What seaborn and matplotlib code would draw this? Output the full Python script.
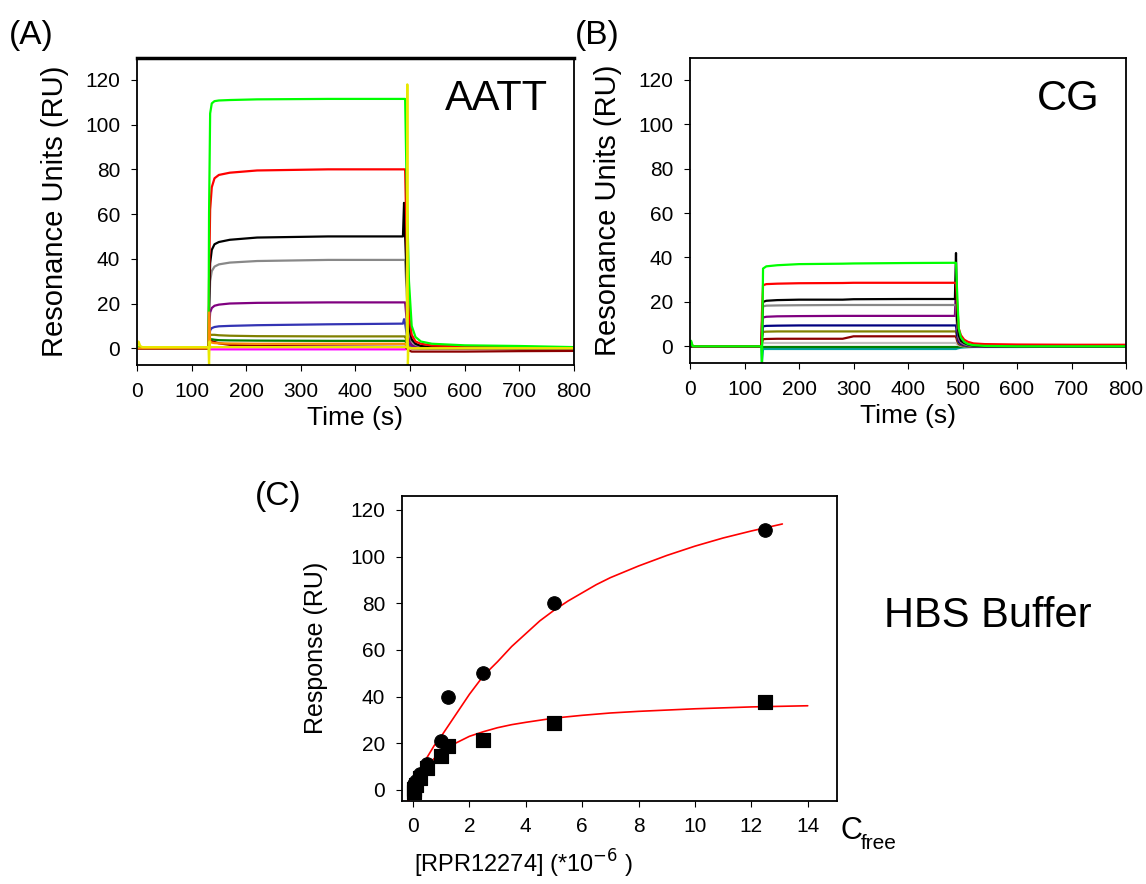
import pandas as pd
import seaborn as sns
import matplotlib.pyplot as plt

# ---- panel A (AATT) sensorgrams ----
t_a = [0, 131, 132, 134, 137, 142, 150, 170, 220, 350, 487, 489, 491, 494, 498, 503, 510, 520, 540, 600, 700, 800]
aatt_magenta = [0, 0, -0.5, -0.5, -0.5, -0.5, -0.5, -0.5, -0.5, -0.5, -0.5, -0.5, -0.5, -0.3, -0.1, 0, 0, 0, 0, 0, 0, 0]
aatt_silver = [0, 0, 2, 3, 3, 2.5, 2.3, 2, 1.8, 1.8, 1.8, 1.8, 1.8, 1, 0.3, 0, 0, 0, 0, 0, 0, 0]
aatt_darkred = [0, 0, 3, 3.5, 3.2, 2.8, 2.2, 1.5, 1, 0.8, 0.6, 0.6, 0.6, 0, -1, -1.5, -1.5, -1.5, -1.5, -1.5, -1.3, -1.2]
aatt_darkgreen = [0, 0, 2, 4, 4, 3.8, 3.6, 3.5, 3.4, 3.3, 3.3, 3.3, 3.3, 2, 0.5, 0, 0, 0, 0, 0, 0, 0]
aatt_olive = [0, 0, 3, 6, 6, 6, 5.8, 5.6, 5.4, 5.3, 5.3, 5.3, 5.3, 3, 1, 0.5, 0.2, 0, 0, 0, 0, 0]
aatt_blue = [0, 0, 4, 8, 9, 9.5, 9.8, 10, 10.3, 10.7, 11, 13, 11, 6, 2, 1, 0.5, 0.2, 0, 0, 0, 0]
aatt_purple = [0, 0, 8, 16, 18, 19, 19.5, 20, 20.3, 20.5, 20.5, 20.5, 20.5, 12, 4, 1.5, 0.8, 0.4, 0.2, 0, 0, 0]
aatt_gray = [0, 0, 14, 30, 34.5, 36.5, 37.5, 38.3, 39, 39.5, 39.5, 39.5, 39.5, 24, 8, 3, 1.5, 0.8, 0.4, 0.2, 0, 0]
aatt_black = [0, 0, 18, 38, 44, 46.5, 47.5, 48.5, 49.5, 50, 50, 65, 50, 30, 10, 4, 2, 1, 0.5, 0.3, 0, 0]
aatt_red = [0, 0, 30, 62, 72, 76, 77.5, 78.5, 79.5, 80, 80, 80, 80, 45, 15, 6, 3, 2, 1.2, 0.8, 0.5, 0.3]
aatt_green = [0.5, 0.5, 60, 105, 109.5, 110.5, 110.8, 111, 111.3, 111.5, 111.5, 111.5, 111.5, 70, 30, 10, 5, 3, 2, 1.3, 1, 0.5]
aatt_orange = [0, 0, 16, 3, 2.5, 2.3, 2.2, 2.1, 2, 2, 2, 2, 2, 1, 0.3, 0, 0, 0, 0, 0, 0, 0]
t_yellow = [0, 3, 6, 10, 131, 132, 133, 134, 494, 495, 496, 497, 520, 800]
aatt_yellow = [0, 3, 1, 0.5, 0.5, -8, 3, 0.5, 0.5, 118, -8, 0, 0, 0]

# ---- panel B (CG) sensorgrams ----
t_b = [0, 2, 5, 131, 132, 134, 140, 160, 200, 280, 300, 400, 486, 488, 490, 493, 497, 503, 510, 520, 540, 600, 700, 800]
cg_teal = [0, 0, 0, 0, -7, -1.2, -1.2, -1.2, -1.2, -1.2, -1.2, -1.2, -1.2, -1.2, -1, -0.8, -0.6, -0.5, -0.4, -0.3, -0.3, -0.3, -0.2, -0.2]
cg_darkgreen = [0, 1, 0, 0, -0.3, -0.3, -0.3, -0.3, -0.3, -0.3, -0.3, -0.3, -0.3, -0.3, -0.3, -0.2, -0.2, -0.1, 0, 0, 0, 0, 0, 0]
cg_silver = [0, 0, 0, 0, 0.8, 1.5, 1.5, 1.5, 1.5, 1.5, 1.5, 1.5, 1.5, 1.5, 1, 0.5, 0.2, 0, 0, 0, 0, 0, 0, 0]
cg_darkred = [0, 0, 0, 0, 1.5, 3.2, 3.3, 3.4, 3.4, 3.4, 4.5, 4.5, 4.5, 4.5, 2.5, 1, 0.5, 0.2, 0, 0, 0, 0, 0, 0]
cg_olive = [0, 0, 0, 0, 3, 6.5, 6.6, 6.7, 6.7, 6.7, 6.7, 6.7, 6.7, 6.7, 4, 1.5, 0.7, 0.3, 0, 0, 0, 0, 0, 0]
cg_navy = [0, 0, 0, 0, 4, 9, 9.2, 9.3, 9.4, 9.4, 9.4, 9.4, 9.4, 9.4, 5, 2, 1, 0.5, 0.2, 0, 0, 0, 0, 0]
cg_purple = [0, 0, 0, 0, 6, 13, 13.3, 13.5, 13.6, 13.7, 13.7, 13.7, 13.7, 28, 8, 3, 1.5, 0.8, 0.4, 0, 0, 0, 0, 0]
cg_gray = [0, 0, 0, 0, 9, 18, 18.3, 18.4, 18.5, 18.6, 18.6, 18.6, 18.6, 18.6, 10, 4, 2, 1, 0.5, 0.2, 0, 0, 0, 0]
cg_black = [0, 0, 0, 0, 10, 20, 20.5, 20.8, 21, 21, 21.2, 21.3, 21.3, 42, 12, 5, 2.5, 1.5, 0.8, 0.3, 0, 0, 0, 0]
cg_red = [0, 2, 0, 0, 15, 27.5, 28, 28.2, 28.4, 28.5, 28.6, 28.6, 28.6, 28.6, 20, 8, 5, 3, 2, 1.3, 1, 0.8, 0.7, 0.7]
cg_green = [0, 2.5, 0, 0, -7, 35, 36, 36.5, 37, 37.2, 37.3, 37.5, 37.6, 37.6, 25, 8, 4, 2, 1, 0.5, 0.2, 0, 0, 0]

# ---- panel C: equilibrium response vs free concentration ----
conc = [0.02, 0.05, 0.1, 0.25, 0.5, 1.0, 1.25, 2.5, 5.0, 12.5]
resp_aatt = [0.5, 2.5, 4, 7, 11, 21, 40, 50, 80, 111.5]
resp_cg = [-1, 0.5, 2, 5, 9.5, 14.5, 19, 21.5, 28.5, 37.5]
fit_aatt_x = [-0.15, 0, 0.25, 0.5, 0.75, 1.0, 1.5, 2.0, 2.5, 3, 3.5, 4, 4.5, 5, 5.5, 6, 6.5, 7, 7.5, 8, 9, 10, 11, 12, 13.1]
fit_aatt_y = [-4.7, 0, 7, 14, 19, 23, 32, 41, 49, 55, 61.5, 67, 72.5, 77, 81, 84.5, 88, 91, 93.5, 96, 100.5, 104.5, 108, 111, 114]
fit_cg_x = [-0.2, 0, 0.25, 0.5, 0.75, 1.0, 1.5, 2.0, 2.5, 3, 3.5, 4, 5, 6, 7, 8, 10, 12, 14]
fit_cg_y = [-5, 0, 5.5, 10, 13.5, 16, 20, 23, 25, 26.7, 28, 29, 30.8, 32, 33, 33.7, 34.8, 35.6, 36.1]

colors = {
    "magenta": "#ff00ff", "silver": "#c0c0c0", "darkred": "#8b0000",
    "darkgreen": "#008000", "olive": "#808000", "blue": "#3333b3",
    "navy": "#000080", "purple": "#800080", "gray": "#888888",
    "black": "#000000", "red": "#ff0000", "green": "#00ff00",
    "orange": "#ff8c00", "yellow": "#e8e800", "teal": "#00a0a0",
}


def long_form(t, traces):
    frames = [pd.DataFrame({"time": t, "RU": v, "trace": k}) for k, v in traces.items()]
    return pd.concat(frames, ignore_index=True)


df_a = pd.concat([
    long_form(t_a, {
        "magenta": aatt_magenta, "silver": aatt_silver, "darkred": aatt_darkred,
        "darkgreen": aatt_darkgreen, "olive": aatt_olive, "blue": aatt_blue,
        "purple": aatt_purple, "gray": aatt_gray, "black": aatt_black,
        "red": aatt_red, "green": aatt_green, "orange": aatt_orange,
    }),
    long_form(t_yellow, {"yellow": aatt_yellow}),
], ignore_index=True)

df_b = long_form(t_b, {
    "teal": cg_teal, "darkgreen": cg_darkgreen, "silver": cg_silver,
    "darkred": cg_darkred, "olive": cg_olive, "navy": cg_navy,
    "purple": cg_purple, "gray": cg_gray, "black": cg_black,
    "red": cg_red, "green": cg_green,
})

sns.set_style("ticks")
plt.rcParams["font.family"] = ["Liberation Sans", "DejaVu Sans"]
plt.rcParams.update({
    "text.color": "black", "axes.labelcolor": "black", "axes.edgecolor": "black",
    "xtick.color": "black", "ytick.color": "black",
    "axes.linewidth": 1.3, "xtick.major.size": 4, "ytick.major.size": 4,
})

fig = plt.figure(figsize=(11.46, 8.84), dpi=100)
ax_a = fig.add_axes([0.1195, 0.5871, 0.3813, 0.3473])
ax_b = fig.add_axes([0.6021, 0.5894, 0.3805, 0.3450])
ax_c = fig.add_axes([0.3508, 0.0942, 0.3796, 0.3450])

for ax, df, label in [(ax_a, df_a, "AATT"), (ax_b, df_b, "CG")]:
    sns.lineplot(data=df, x="time", y="RU", hue="trace", palette=colors,
                 estimator=None, sort=False, legend=False, linewidth=1.6, ax=ax)
    ax.set_xlim(0, 800)
    ax.set_ylim(-7.5, 129.8)
    ax.set_xticks(range(0, 801, 100))
    ax.set_yticks(range(0, 121, 20))
    ax.tick_params(labelsize=15, pad=8)
    ax.set_xlabel("Time (s)", fontsize=19, labelpad=4)
    ax.set_ylabel("Resonance Units (RU)", fontsize=21)
    ax.yaxis.set_label_coords(-0.155, 0.5)
    ax.text(0.94, 0.93, label, transform=ax.transAxes, fontsize=30,
            ha="right", va="top")
    for s in ax.spines.values():
        s.set_visible(True)
ax_a.spines["top"].set_linewidth(2.5)

# panel C
sns.lineplot(x=fit_aatt_x, y=fit_aatt_y, color="red", linewidth=1.2, ax=ax_c)
sns.lineplot(x=fit_cg_x, y=fit_cg_y, color="red", linewidth=1.2, ax=ax_c)
sns.scatterplot(x=conc, y=resp_aatt, marker="o", color="black", s=95,
                edgecolor="black", ax=ax_c, zorder=3)
sns.scatterplot(x=conc, y=resp_cg, marker="s", color="black", s=110,
                edgecolor="black", ax=ax_c, zorder=3)
ax_c.set_xlim(-0.39, 15.04)
ax_c.set_ylim(-4.6, 126.1)
ax_c.set_xticks(range(0, 15, 2))
ax_c.set_yticks(range(0, 121, 20))
ax_c.tick_params(labelsize=15, pad=8)
ax_c.set_ylabel("Response (RU)", fontsize=18)
ax_c.yaxis.set_label_coords(-0.17, 0.5)
ax_c.set_xlabel("[RPR12274] (*10$^{-6}$ )", fontsize=17)
ax_c.xaxis.set_label_coords(0.28, -0.155)
for s in ax_c.spines.values():
    s.set_visible(True)

fig.text(0.733, 0.060, "C", fontsize=22, ha="left", va="center")
fig.text(0.751, 0.046, "free", fontsize=15, ha="left", va="center")
fig.text(0.771, 0.303, "HBS Buffer", fontsize=30, ha="left", va="center")

fig.text(0.008, 0.96, "(A)", fontsize=24, ha="left", va="center")
fig.text(0.502, 0.96, "(B)", fontsize=24, ha="left", va="center")
fig.text(0.222, 0.438, "(C)", fontsize=24, ha="left", va="center")

fig.savefig("out.png", dpi=100)
